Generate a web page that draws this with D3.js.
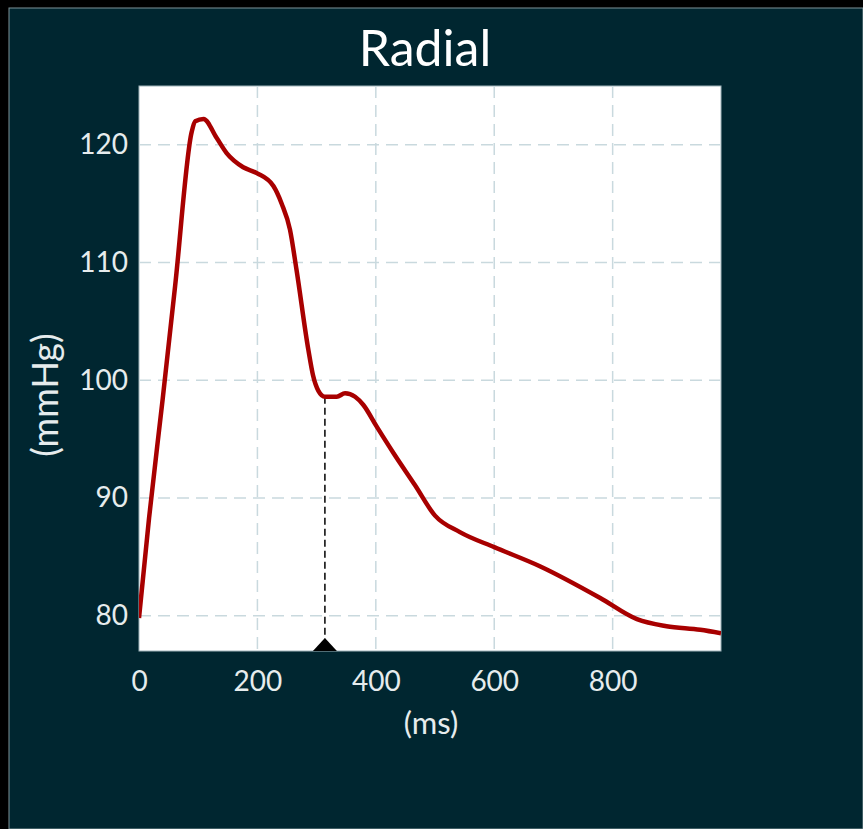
<!DOCTYPE html>
<html><head><meta charset="utf-8">
<script src="https://cdn.jsdelivr.net/npm/d3@7/dist/d3.min.js"></script>
<style>
html,body{margin:0;padding:0;background:#000;}
svg{display:block;}
</style></head>
<body><svg id="c" width="863" height="829"></svg>
<script>
const title = "Radial";
const xLabel = "(ms)";
const yLabel = "(mmHg)";
const xTicks = [0, 200, 400, 600, 800];
const yTicks = [80, 90, 100, 110, 120];
const xDomain = [0, 983];
const yDomain = [77, 125];
const timeMs = [0, 17, 40, 61, 89, 95, 109, 131, 148, 176, 199, 227, 241, 255, 266, 286, 294, 303, 314, 334, 348, 365, 379, 401, 430, 466, 500, 542, 601, 677, 779, 841, 891, 948, 983];
const pressure = [79.8, 88.3, 98.4, 108.0, 121.1, 122.0, 122.2, 120.6, 119.3, 118.1, 117.6, 116.5, 115.0, 112.8, 109.4, 102.6, 100.4, 99.1, 98.6, 98.6, 98.9, 98.6, 97.9, 96.1, 93.8, 91.1, 88.5, 87.1, 85.8, 84.2, 81.5, 79.7, 79.1, 78.8, 78.5];
const markerTime = 314;
const markerValue = 98.6;

const svg = d3.select("#c");
const W = 863, H = 829;
const m = {left:139, right:721, top:86, bottom:651};
const font = "Lato, 'DejaVu Sans', sans-serif";
const textCol = "#e6eced";

svg.append("rect").attr("x",9).attr("y",8).attr("width",W-9).attr("height",H-8)
  .attr("fill","#002630").attr("stroke","#7f9499").attr("stroke-width",1);

const x = d3.scaleLinear().domain(xDomain).range([m.left, m.right]);
const y = d3.scaleLinear().domain(yDomain).range([m.bottom, m.top]);

svg.append("rect").attr("x",m.left).attr("y",m.top)
  .attr("width",m.right-m.left).attr("height",m.bottom-m.top)
  .attr("fill","#fff").attr("stroke","#9fb3ba").attr("stroke-width",1);

const grid = svg.append("g");
grid.selectAll("line.v").data(xTicks.filter(d=>d>0)).enter().append("line")
  .attr("x1",d=>x(d)).attr("x2",d=>x(d)).attr("y1",m.top).attr("y2",m.bottom)
  .attr("stroke","#c9d9de").attr("stroke-width",1.5).attr("stroke-dasharray","12,7");
grid.selectAll("line.h").data(yTicks).enter().append("line")
  .attr("y1",d=>y(d)).attr("y2",d=>y(d)).attr("x1",m.left).attr("x2",m.right)
  .attr("stroke","#c9d9de").attr("stroke-width",1.5).attr("stroke-dasharray","12,7");

svg.append("clipPath").attr("id","pc").append("rect")
  .attr("x",m.left).attr("y",m.top).attr("width",m.right-m.left).attr("height",m.bottom-m.top);

const pts = timeMs.map((t,i)=>[t,pressure[i]]);
const line = d3.line().x(d=>x(d[0])).y(d=>y(d[1])).curve(d3.curveMonotoneX);

svg.append("line").attr("x1",x(markerTime)).attr("x2",x(markerTime))
  .attr("y1",y(markerValue)).attr("y2",m.bottom)
  .attr("stroke","#000").attr("stroke-width",1.5).attr("stroke-dasharray","7,4");

svg.append("path").attr("d",line(pts)).attr("fill","none")
  .attr("stroke","#a80000").attr("stroke-width",4.5).attr("stroke-linejoin","round")
  .attr("clip-path","url(#pc)");

const tx = x(markerTime), ty = m.bottom;
svg.append("path").attr("d",`M${tx-12},${ty}L${tx},${ty-13}L${tx+12},${ty}Z`).attr("fill","#000");

const xAxis = d3.axisBottom(x).tickValues(xTicks).tickSize(0).tickPadding(20);
const gx = svg.append("g").attr("transform",`translate(0,${m.bottom})`).call(xAxis);
gx.select(".domain").remove();
gx.selectAll("text").attr("fill",textCol).style("font-family",font).style("font-size","28px");

const yAxis = d3.axisLeft(y).tickValues(yTicks).tickSize(0).tickPadding(11);
const gy = svg.append("g").attr("transform",`translate(${m.left},0)`).call(yAxis);
gy.select(".domain").remove();
gy.selectAll("text").attr("fill",textCol).style("font-family",font).style("font-size","28px");

svg.append("text").attr("x",(m.left+m.right)/2-5).attr("y",66).attr("text-anchor","middle")
  .attr("fill","#fff").style("font-family",font).style("font-size","50px").text(title);
svg.append("text").attr("x",431).attr("y",734).attr("text-anchor","middle")
  .attr("fill",textCol).style("font-family",font).style("font-size","31px").text(xLabel);
svg.append("text").attr("transform","translate(58,395) rotate(-90)").attr("text-anchor","middle")
  .attr("fill",textCol).style("font-family",font).style("font-size","36px").text(yLabel);
</script></body></html>
